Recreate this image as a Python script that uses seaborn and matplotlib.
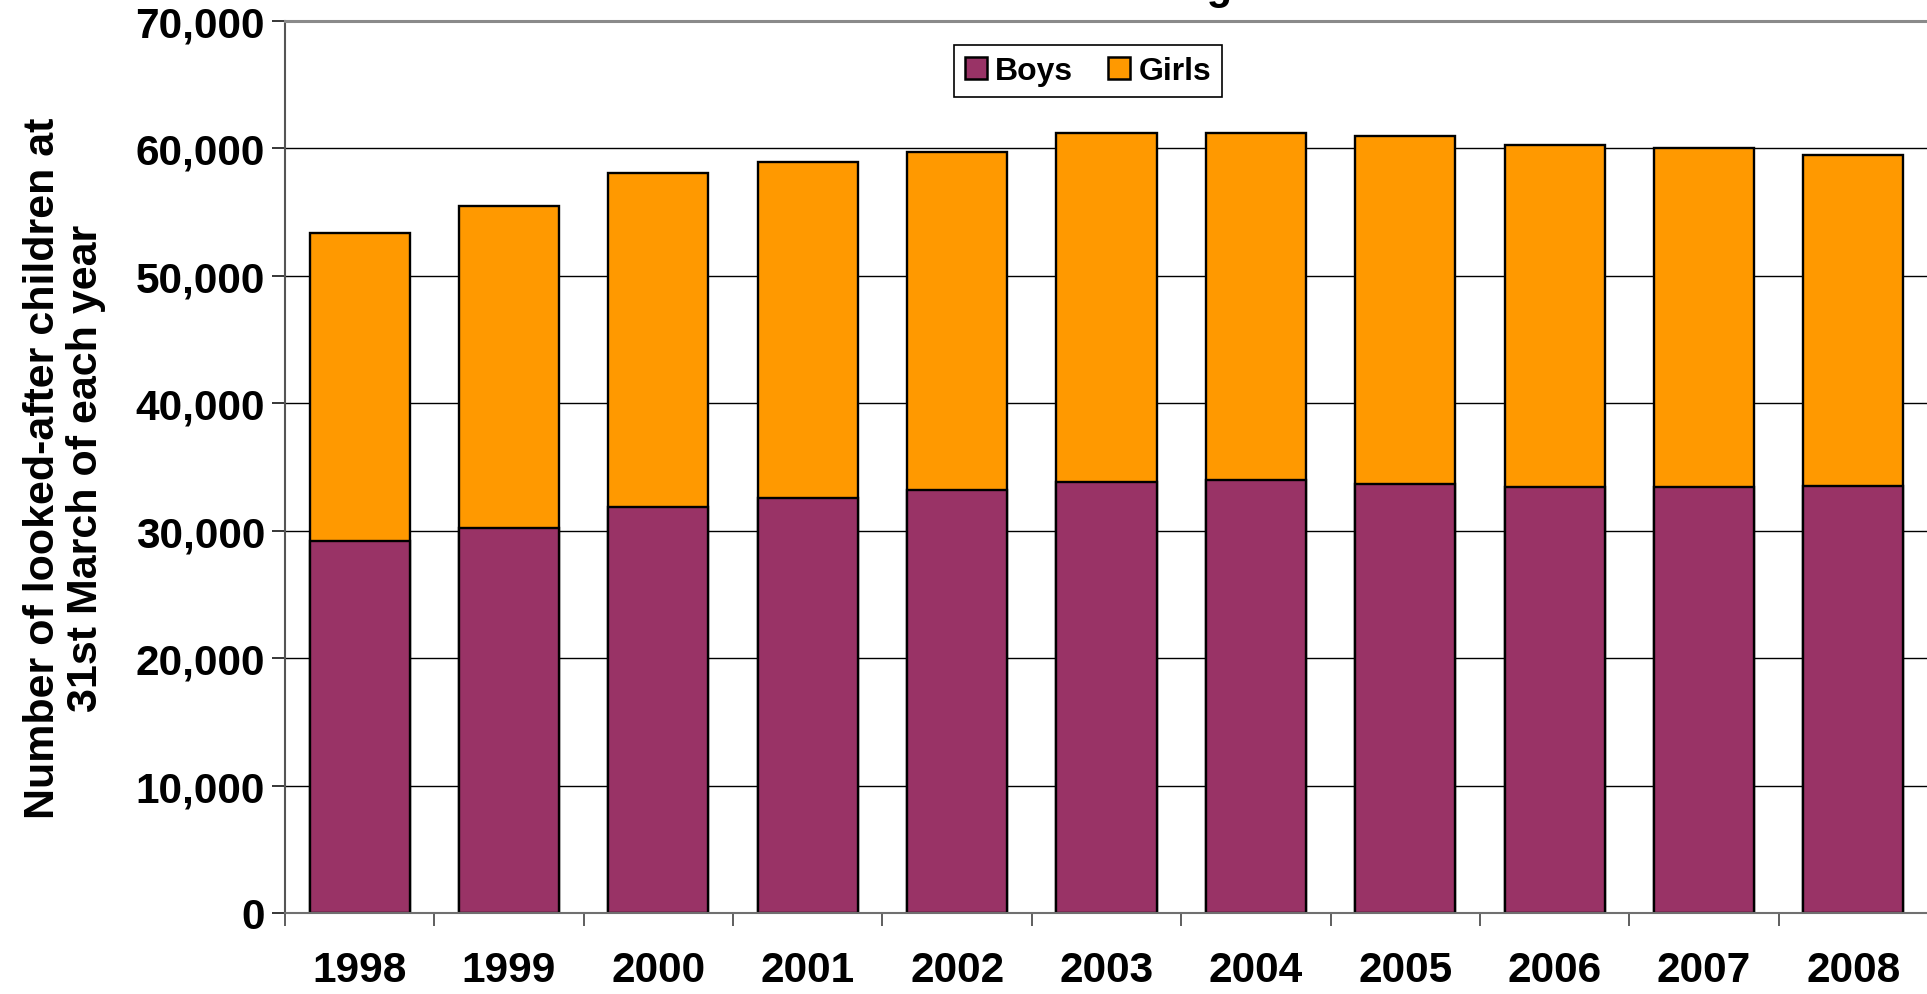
import matplotlib
matplotlib.use('Agg')
import matplotlib.pyplot as plt
import seaborn as sns
import pandas as pd
import numpy as np
from matplotlib.patches import Patch
from matplotlib.ticker import FuncFormatter, FixedLocator

# ---- data ----
years = ['1998', '1999', '2000', '2001', '2002', '2003', '2004', '2005', '2006', '2007', '2008']
boys = [29200, 30200, 31900, 32600, 33200, 33800, 34000, 33700, 33400, 33400, 33500]
girls = [24200, 25300, 26200, 26300, 26500, 27400, 27200, 27300, 26900, 26600, 26000]
series_names = ['Boys', 'Girls']
y_ticks = [0, 10000, 20000, 30000, 40000, 50000, 60000, 70000]
title_text = "Looked-after children in England"
y_label = "Number of looked-after children at\n31st March of each year"

BOYS_COLOR = '#993366'
GIRLS_COLOR = '#FF9900'

sns.set_theme(style='white')
plt.rcParams['font.family'] = ['Liberation Sans', 'DejaVu Sans']
plt.rcParams['font.weight'] = 'bold'
plt.rcParams['axes.labelweight'] = 'bold'
plt.rcParams['text.color'] = 'black'
plt.rcParams['axes.labelcolor'] = 'black'
plt.rcParams['xtick.color'] = 'black'
plt.rcParams['ytick.color'] = 'black'
plt.rcParams['xtick.labelcolor'] = 'black'
plt.rcParams['ytick.labelcolor'] = 'black'

df = pd.DataFrame({'year': years, 'boys': boys, 'girls': girls})
df['total'] = df['boys'] + df['girls']

W, H = 1927, 995
fig = plt.figure(figsize=(W / 100, H / 100), dpi=100)
ax = fig.add_axes([285 / W, 81 / H, 1643 / W, 892 / H])

sns.barplot(data=df, x='year', y='total', color=GIRLS_COLOR, saturation=1,
            width=0.67, edgecolor='black', linewidth=1.7, ax=ax)
sns.barplot(data=df, x='year', y='boys', color=BOYS_COLOR, saturation=1,
            width=0.67, edgecolor='black', linewidth=1.7, ax=ax)

ax.set_axisbelow(True)
ax.set_ylim(0, 70000)
ax.set_xlim(-0.5, len(years) - 0.5)
ax.set_yticks(y_ticks)
ax.yaxis.set_major_formatter(FuncFormatter(lambda v, p: f"{int(v):,}"))
ax.yaxis.grid(True, color='black', linewidth=1.0)
ax.xaxis.grid(False)

ax.spines['top'].set_color('#8a8a8a')
ax.spines['top'].set_linewidth(2.2)
ax.spines['left'].set_color('#555555')
ax.spines['left'].set_linewidth(1.5)
ax.spines['bottom'].set_color('#707070')
ax.spines['bottom'].set_linewidth(1.5)
ax.spines['right'].set_visible(False)

ax.tick_params(axis='y', which='major', left=True, direction='out', length=9.4,
               width=1.1, color='black', pad=5, labelsize=30.5, labelcolor='black')
ax.tick_params(axis='x', which='major', bottom=True, length=0, pad=27, labelsize=30.5,
               labelcolor='black')
ax.xaxis.set_minor_locator(FixedLocator(np.arange(-0.5, len(years), 1.0)))
ax.tick_params(axis='x', which='minor', bottom=True, direction='out', length=9.4,
               width=1.1, color='#333333')

ax.set_xlabel('')
ax.set_ylabel(y_label, fontsize=31, fontweight='bold', linespacing=1.08, color='black')
ax.yaxis.set_label_coords(-0.109, 0.5)

handles = [Patch(facecolor=BOYS_COLOR, edgecolor='black', linewidth=1.8, label=series_names[0]),
           Patch(facecolor=GIRLS_COLOR, edgecolor='black', linewidth=1.8, label=series_names[1])]
leg = fig.legend(handles=handles, loc='upper center', bbox_to_anchor=(1088 / W, 1 - 46 / H),
                 ncol=2, fontsize=23, frameon=True, fancybox=False, edgecolor='black',
                 handlelength=0.68, handleheight=0.7, handletextpad=0.26,
                 columnspacing=1.1, borderpad=0.35, borderaxespad=0, framealpha=1,
                 shadow=False)
leg.get_frame().set_linewidth(1.2)

# title (mostly above the visible area, only a descender shows)
fig.canvas.draw()
r = fig.canvas.get_renderer()
prefix = title_text[:title_text.index('g')]
tmp = fig.text(0, 0, prefix, fontsize=30, fontweight='bold')
pw = tmp.get_window_extent(r).width
tmp.remove()
fig.text((1207 - pw) / W, 1.001, title_text, fontsize=30, fontweight='bold',
         ha='left', va='baseline', color='black')

fig.savefig('out.png', dpi=100)
